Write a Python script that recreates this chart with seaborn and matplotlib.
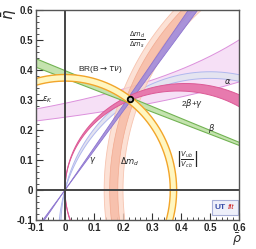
import numpy as np
import seaborn as sns
import matplotlib
matplotlib.use("Agg")
import matplotlib.pyplot as plt
from matplotlib.patches import Rectangle
from matplotlib.ticker import MultipleLocator

# fitted apex of the unitarity triangle
apex_rho = 0.224
apex_eta = 0.302

# |Vub/Vcb| ring around (0,0): inner and outer radius
vub_radii = [0.363, 0.385]
# dm_d ring around (1,0): wide light band and narrow dark band
dmd_wide = [0.800, 0.865]
dmd_core = [0.818, 0.846]
# sin2beta: tan(beta) of the two edges (lines through (1,0))
beta_tan = [0.372, 0.398]
# gamma: slopes of the two rays through the origin
gamma_slope = [1.31, 1.41]
# alpha: circles through (0,0) and (1,0), eta of the centre
alpha_k = [-0.15, -0.12]
# 2beta+gamma: half ellipses starting at the origin, semi axes
twobg_a = [0.39, 0.415]
twobg_b = [0.33, 0.355]
# epsilon_K hyperbolas eta = A / (B - rho), lower and upper edge
epsk_A = [0.4458, 0.4109]
epsk_B = [1.838, 1.4217]

xticks = [-0.1, 0, 0.1, 0.2, 0.3, 0.4, 0.5, 0.6]
xticklabels = ["-0.1", "0", "0.1", "0.2", "0.3", "0.4", "0.5", "0.6"]


def ring(cx, r, th):
    return cx + r * np.cos(th), r * np.sin(th)


def band(ax, x1, y1, x2, y2, fill, edge, alpha=1.0, lw=0.8, z=1):
    ax.fill(np.r_[x1, x2[::-1]], np.r_[y1, y2[::-1]], color=fill, alpha=alpha, lw=0, zorder=z)
    for xs, ys in ((x1, y1), (x2, y2)):
        sns.lineplot(x=xs, y=ys, sort=False, estimator=None, color=edge, lw=lw, ax=ax, zorder=z)


sns.set_theme(style="white")
plt.rcParams["font.family"] = ["Liberation Sans", "DejaVu Sans"]
plt.rcParams["mathtext.fontset"] = "dejavusans"

fig = plt.figure(figsize=(2.56, 2.49), dpi=100)
ax = fig.add_axes([36 / 256, 1 - 220 / 249, 203 / 256, 210 / 249])

rho = np.linspace(-0.1, 0.6, 300)

# epsilon_K
y_lo = epsk_A[0] / (epsk_B[0] - rho)
y_hi = epsk_A[1] / (epsk_B[1] - rho)
band(ax, rho, y_lo, rho, y_hi, "#f6e0f6", "#dc90dc", lw=0.7, z=1)

# alpha
ph = np.linspace(1.1, 3.2, 300)
cur = []
for k in alpha_k:
    r = np.sqrt(0.25 + k ** 2)
    cur.append((0.5 + r * np.cos(ph), k + r * np.sin(ph)))
band(ax, cur[0][0], cur[0][1], cur[1][0], cur[1][1], "#e4e4f0", "#b0b8ee", lw=0.7, z=2)

# dm_d
th = np.linspace(1.9, 3.35, 300)
x1, y1 = ring(1.0, dmd_wide[0], th)
x2, y2 = ring(1.0, dmd_wide[1], th)
band(ax, x1, y1, x2, y2, "#fbd8c8", "#f7c4b0", alpha=0.75, lw=0.6, z=3)
x1, y1 = ring(1.0, dmd_core[0], th)
x2, y2 = ring(1.0, dmd_core[1], th)
band(ax, x1, y1, x2, y2, "#f5b49c", "#f2aa90", alpha=0.7, lw=0.5, z=3)

# gamma
rg = np.linspace(-0.1, 0.6, 50)
band(ax, rg, gamma_slope[0] * rg, rg, gamma_slope[1] * rg, "#a08ada", "#8c74cf", alpha=0.9, lw=0.6, z=4)

# 2beta+gamma
t = np.linspace(0.0, np.pi + 0.4, 300)
ex = [a * (1 + np.cos(t)) for a in twobg_a]
ey = [b * np.sin(t) for b in twobg_b]
band(ax, ex[0], ey[0], ex[1], ey[1], "#e77aae", "#dc5a96", lw=0.7, z=5)

# sin2beta
band(ax, rho, beta_tan[0] * (1 - rho), rho, beta_tan[1] * (1 - rho), "#c4e3ae", "#72b353", lw=0.8, z=6)

# |Vub/Vcb|
tv = np.linspace(-0.4, 2.1, 300)
x1, y1 = ring(0.0, vub_radii[0], tv)
x2, y2 = ring(0.0, vub_radii[1], tv)
band(ax, x1, y1, x2, y2, "#fff6c0", "#f2a52a", lw=1.0, z=7)

# axes through the origin
ax.axhline(0, color="#444444", lw=1.4, zorder=8)
ax.axvline(0, color="#444444", lw=1.4, zorder=8)

ax.plot([apex_rho], [apex_eta], "o", mfc="#bbbbbb", mec="black", ms=4, mew=1.3, zorder=10)

# labels
fs = 6
ax.text(0.12, 0.40, r"BR(B$\rightarrow\tau\nu$)", fontsize=fs, ha="center", va="center", zorder=11)
ax.text(-0.06, 0.30, r"$\epsilon_K$", fontsize=fs, ha="center", va="center", zorder=11)
ax.text(0.25, 0.50, r"$\frac{\Delta m_d}{\Delta m_s}$", fontsize=7, ha="center", va="center", zorder=11)
ax.text(0.56, 0.36, r"$\alpha$", fontsize=fs, ha="center", va="center", zorder=11)
ax.text(0.44, 0.29, r"2$\beta$+$\gamma$", fontsize=fs, ha="center", va="center", zorder=11)
ax.text(0.505, 0.205, r"$\beta$", fontsize=fs, ha="center", va="center", zorder=11)
ax.text(0.097, 0.10, r"$\gamma$", fontsize=fs, ha="center", va="center", zorder=11)
ax.text(0.225, 0.093, r"$\Delta m_d$", fontsize=fs, ha="center", va="center", zorder=11)
ax.text(0.42, 0.10, r"$\left|\frac{V_{ub}}{V_{cb}}\right|$", fontsize=7, ha="center", va="center", zorder=11)

# UTfit logo
ax.add_patch(Rectangle((0.507, -0.082), 0.088, 0.05, facecolor="#eef0fa", edgecolor="#a8b0d8", lw=0.8, zorder=11))
ax.text(0.535, -0.057, "UT", color="#3a4fa8", fontsize=6, fontweight="bold", ha="center", va="center", zorder=12)
ax.text(0.572, -0.059, "fit", color="#d02828", fontsize=6, style="italic", ha="center", va="center", zorder=12)

ax.set_xlim(-0.1, 0.6)
ax.set_ylim(-0.1, 0.6)
ax.set_xticks(xticks)
ax.set_xticklabels(xticklabels)
ax.set_yticks(xticks)
ax.set_yticklabels(xticklabels)
ax.xaxis.set_minor_locator(MultipleLocator(0.02))
ax.yaxis.set_minor_locator(MultipleLocator(0.02))
ax.tick_params(which="both", direction="in", top=False, right=False, bottom=True, left=True,
               labelsize=7, pad=2, color="#333333")
ax.tick_params(which="major", length=5, width=0.8)
ax.tick_params(which="minor", length=2.5, width=0.6)
for lab in ax.get_xticklabels() + ax.get_yticklabels():
    lab.set_fontweight("bold")
for s in ax.spines.values():
    s.set_color("#555555")
    s.set_linewidth(1.0)
    s.set_zorder(12)

# axis titles placed like the ROOT original
fig.text(9 / 256, 1 - 14 / 249, r"$\bar{\eta}$", fontsize=11, rotation=90, ha="center", va="center")
fig.text(237 / 256, 1 - 240 / 249, r"$\bar{\rho}$", fontsize=9, ha="center", va="center")

fig.savefig("out.png", dpi=100)
